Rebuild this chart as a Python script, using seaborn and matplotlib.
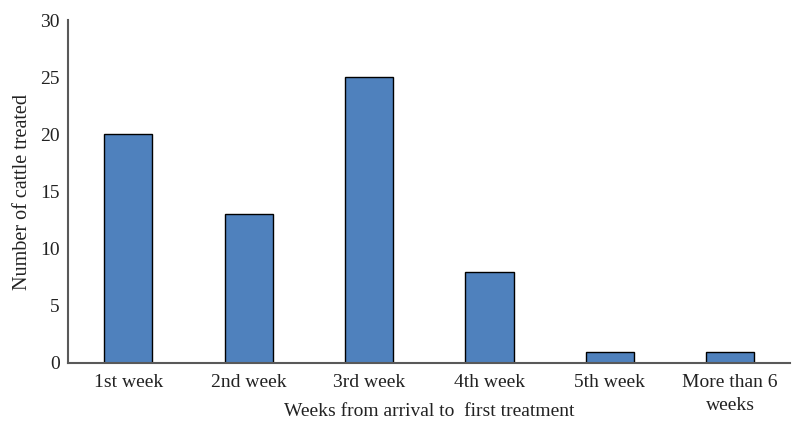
import numpy as np
import pandas as pd
import matplotlib
matplotlib.use('Agg')
import matplotlib.pyplot as plt
import seaborn as sns

weeks = ['1st week', '2nd week', '3rd week', '4th week', '5th week', 'More than 6\nweeks']
cattle = [20, 13, 25, 8, 1, 1]

df = pd.DataFrame({'week': weeks, 'cattle': cattle})

sns.set_theme(style='white')
plt.rcParams['font.family'] = ['Liberation Serif', 'DejaVu Serif']

fig = plt.figure(figsize=(7.92, 4.28), dpi=100)
ax = fig.add_axes([0.086, 0.152, 0.912, 0.801])

sns.barplot(x='week', y='cattle', data=df, color='#4f81bd', saturation=1,
            width=0.4, edgecolor='black', linewidth=1, ax=ax)

ax.set_ylim(0, 30)
ax.set_yticks(np.arange(0, 31, 5))
ax.set_xlim(-0.5, 5.5)
ax.set_xticks(range(len(weeks)))
ax.set_xticklabels(weeks, linespacing=1.45)
ax.tick_params(axis='both', length=0, labelsize=14, colors='#222222', pad=6)
ax.tick_params(axis='x', pad=8)
ax.set_xlabel('Weeks from arrival to  first treatment', fontsize=14, color='#222222', labelpad=-8)
ax.set_ylabel('Number of cattle treated', fontsize=14.5, color='#222222', labelpad=6)

sns.despine(ax=ax)
for side in ['left', 'bottom']:
    ax.spines[side].set_color('#595959')
    ax.spines[side].set_linewidth(1.5)

fig.savefig('out.png', dpi=100)
